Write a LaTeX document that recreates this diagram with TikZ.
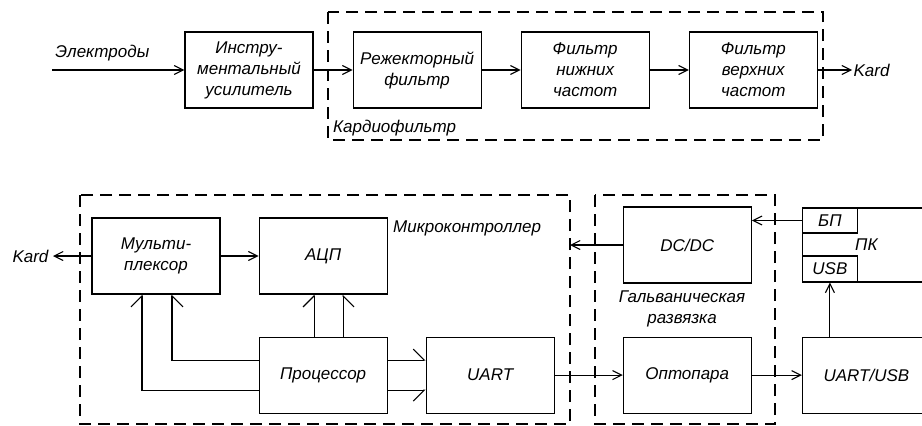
\documentclass[tikz,border=0pt]{standalone}
\usepackage{fontspec}
\setmainfont{Liberation Sans}
\usetikzlibrary{arrows.meta, positioning}
\tikzset{
  block/.style={
    rectangle, draw, line width=1.1pt,
    minimum width=128pt, minimum height=76pt, inner sep=2pt,
    align=center, font=\itshape\fontsize{17}{21}\selectfont
  },
  subblock/.style={
    rectangle, draw, line width=1.1pt,
    minimum width=55pt, minimum height=25pt, inner sep=0pt,
    font=\itshape\fontsize{17}{21}\selectfont
  },
  region/.style={draw, line width=1.1pt, dash pattern=on 12pt off 7pt},
  note/.style={inner sep=0pt, align=center, font=\itshape\fontsize{17}{21}\selectfont},
  arrow/.style={line width=1.1pt, -{Straight Barb[length=9pt,width=9pt]}},
  busleft/.style={line width=1.1pt, -{Straight Barb[harpoon,length=11pt,width=22pt]}},
  busright/.style={line width=1.1pt, -{Straight Barb[harpoon,swap,length=11pt,width=22pt]}},
}
\begin{document}
\begin{tikzpicture}[x=1pt, y=1pt, node distance=39pt]
  \useasboundingbox (0,0) rectangle (922,-426);

  % cardio filter chain
  \node (amp)  [block] at (249,-70)   {Инстру-\\ментальный\\усилитель};
  \node (rej)  [block, right=of amp]  {Режекторный\\фильтр};
  \node (low)  [block, right=of rej]  {Фильтр\\нижних\\частот};
  \node (high) [block, right=of low]  {Фильтр\\верхних\\частот};

  \draw [region] (328,-12) rectangle (823,-140);
  \node [note, anchor=west] at (333,-128) {Кардиофильтр};

  \coordinate (ein)   at (52,-70);
  \coordinate (kardR) at (852,-70);
  \draw [arrow] (ein)  -- node[note, above=8pt, pos=0.38]{Электроды} (amp);
  \draw [arrow] (amp)  -- (rej);
  \draw [arrow] (rej)  -- (low);
  \draw [arrow] (low)  -- (high);
  \draw [arrow] (high) -- (kardR) node[note, right=1pt]{Kard};

  % microcontroller
  \node (mux)  [block] at (156,-256)            {Мульти-\\плексор};
  \node (adc)  [block, right=38pt of mux]       {АЦП};
  \node (proc) [block, below=42pt of adc]       {Процессор};
  \node (uart) [block, right=38pt of proc]      {UART};

  \draw [region] (80,-195) rectangle (570,-424) coordinate (micro se);
  \node [note, anchor=west] at (393,-228) {Микроконтроллер};

  % galvanic isolation
  \node (opto) [block, right=68pt of uart]      {Оптопара};
  \node (dcdc) [block, above=53pt of opto]      {DC/DC};

  \draw [region] (595,-195) rectangle (775,-424);
  \node [note] at (682,-309) {Гальваническая\\развязка};

  % PC side
  \node (uusb) [block, right=50pt of opto]      {UART/USB};
  \node (pc)   [block, above=54pt of uusb, minimum height=74pt] {ПК};
  \node (bp)   [subblock, anchor=north west] at (pc.north west) {БП};
  \node (usb)  [subblock, anchor=south west, minimum height=26pt] at (pc.south west) {USB};

  \coordinate (kardL) at (53,-256);
  \draw [arrow] (mux)  -- (adc);
  \draw [arrow] (mux)  -- (kardL) node[note, left=4pt]{Kard};

  \draw [busleft]  ([xshift=-9pt]proc.north) -- ([xshift=-9pt]adc.south);
  \draw [busright] ([xshift=20pt]proc.north) -- ([xshift=20pt]adc.south);
  \draw [busleft]  ([yshift=-15pt]proc.west) -| ([xshift=-14pt]mux.south);
  \draw [busright] ([yshift=15pt]proc.west)  -| ([xshift=16pt]mux.south);
  \draw [busleft]  ([yshift=15pt]proc.east)  -- ([yshift=15pt]uart.west);
  \draw [busright] ([yshift=-15pt]proc.east) -- ([yshift=-15pt]uart.west);

  \draw [arrow] (uart) -- (opto);
  \draw [arrow] (opto) -- (uusb);
  \draw [arrow] (uusb.north -| usb.south) -- (usb.south);
  \draw [arrow] (bp.west) -- (bp.west -| dcdc.east);
  \draw [arrow] (dcdc.west) -- (dcdc.west -| micro se);
\end{tikzpicture}
\end{document}
